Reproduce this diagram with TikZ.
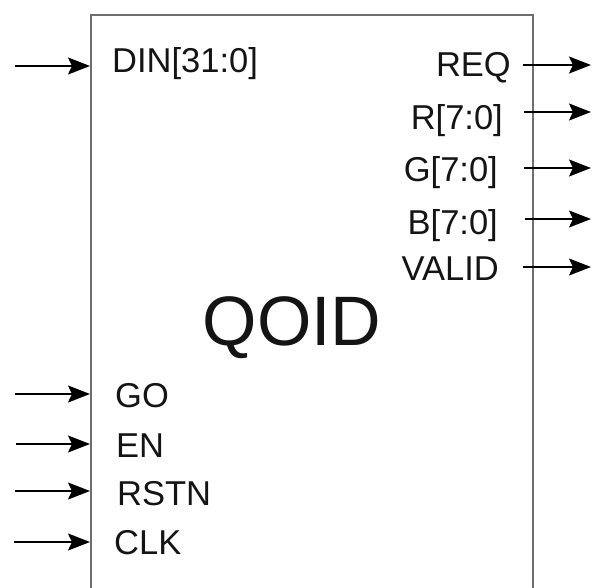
\documentclass[tikz,border=0pt]{standalone}
\usepackage{fontspec}
\setmainfont{Liberation Sans}
\usetikzlibrary{arrows.meta}
\definecolor{boxgray}{RGB}{110,110,110}
\definecolor{sigblack}{RGB}{0,0,0}
\definecolor{labclr}{RGB}{20,20,20}
\tikzset{
  % Blok to'rtburchagi
  blockbox/.style   = {draw=boxgray, line width=1.6pt, inner sep=0pt, anchor=north west},
  % Signal chiziqlari
  sigline/.style    = {-{Stealth[length=22pt,width=17pt,inset=4pt]}, line width=1.7pt, sigblack},
  % Port nomlari
  portin/.style     = {font=\fontsize{34.5}{38}\selectfont, labclr, anchor=base west, inner sep=0pt},
  portout/.style    = {font=\fontsize{34.5}{38}\selectfont, labclr, anchor=base east, inner sep=0pt},
  blocktitle/.style = {font=\fontsize{70}{80}\selectfont, labclr, anchor=base, inner sep=0pt},
}
\begin{document}
\begin{tikzpicture}[x=1pt,y=-1pt]
  \useasboundingbox (0,0) rectangle (592,588);
  % Blok
  \node[blockbox, minimum width=442pt, minimum height=582pt] (qoid) at (90,14) {};
  \node[blocktitle] (qoidname) at (292,345) {QOID};
  % Kirish portlari
  \node[portin] (din)  at (112,73)  {DIN[31:0]};
  \node[portin] (go)   at (115,407) {GO};
  \node[portin] (en)   at (116,457) {EN};
  \node[portin] (rstn) at (117,505) {RSTN};
  \node[portin] (clk)  at (114,554) {CLK};
  % Chiqish portlari
  \node[portout] (req)   at (511,77)  {REQ};
  \node[portout] (rout)  at (503,130) {R[7:0]};
  \node[portout] (gout)  at (498,182) {G[7:0]};
  \node[portout] (bout)  at (498,235) {B[7:0]};
  \node[portout] (valid) at (499,280) {VALID};
  % Kirish signallari
  \coordinate (dinsrc)  at (15,66);
  \coordinate (gosrc)   at (15,394);
  \coordinate (ensrc)   at (16,444);
  \coordinate (rstnsrc) at (15,491);
  \coordinate (clksrc)  at (14,542);
  \draw[sigline] (dinsrc)  -- (dinsrc  -| qoid.west);
  \draw[sigline] (gosrc)   -- (gosrc   -| qoid.west);
  \draw[sigline] (ensrc)   -- (ensrc   -| qoid.west);
  \draw[sigline] (rstnsrc) -- (rstnsrc -| qoid.west);
  \draw[sigline] (clksrc)  -- (clksrc  -| qoid.west);
  % Chiqish signallari
  \coordinate (reqa)   at (523,65);  \coordinate (reqb)   at (591,65);
  \coordinate (routa)  at (524,112); \coordinate (routb)  at (591,112);
  \coordinate (gouta)  at (524,168); \coordinate (goutb)  at (591,168);
  \coordinate (bouta)  at (525,219); \coordinate (boutb)  at (591,219);
  \coordinate (valida) at (523,267); \coordinate (validb) at (591,267);
  \draw[sigline] (reqa)   -- (reqb);
  \draw[sigline] (routa)  -- (routb);
  \draw[sigline] (gouta)  -- (goutb);
  \draw[sigline] (bouta)  -- (boutb);
  \draw[sigline] (valida) -- (validb);
\end{tikzpicture}
\end{document}
